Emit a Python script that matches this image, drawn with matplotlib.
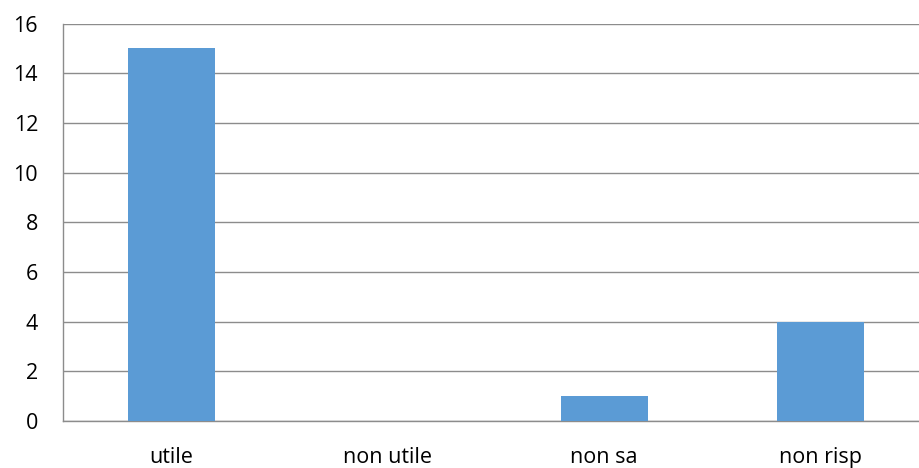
import matplotlib.pyplot as plt
import numpy as np

categories = ["utile", "non utile", "non sa", "non risp"]
counts = [15, 0, 1, 4]
y_ticks = [0, 2, 4, 6, 8, 10, 12, 14, 16]

plt.rcParams["font.family"] = ["Open Sans", "DejaVu Sans"]

fig = plt.figure(figsize=(9.2, 4.68), dpi=100)
# plot area runs slightly past the right edge, as in the original export
ax = fig.add_axes([63 / 920, 1 - 421 / 468, 866 / 920, (421 - 23.5) / 468])

x = np.arange(len(categories))
ax.bar(x, counts, width=0.4, color="#5B9BD5", zorder=3)

ax.set_xlim(-0.5, len(categories) - 0.5)
ax.set_ylim(0, 16)
ax.set_yticks(y_ticks)
ax.set_xticks(x)
ax.set_xticklabels(categories)
ax.tick_params(axis="both", length=0, labelsize=15.5, colors="black")
ax.tick_params(axis="y", pad=18)
ax.tick_params(axis="x", pad=19)

ax.grid(axis="y", color="#8c8c8c", linewidth=1, zorder=0)
for side in ["top", "right"]:
    ax.spines[side].set_visible(False)
for side in ["left", "bottom"]:
    ax.spines[side].set_color("#8c8c8c")
    ax.spines[side].set_linewidth(1)

plt.savefig("out.png", dpi=100)
